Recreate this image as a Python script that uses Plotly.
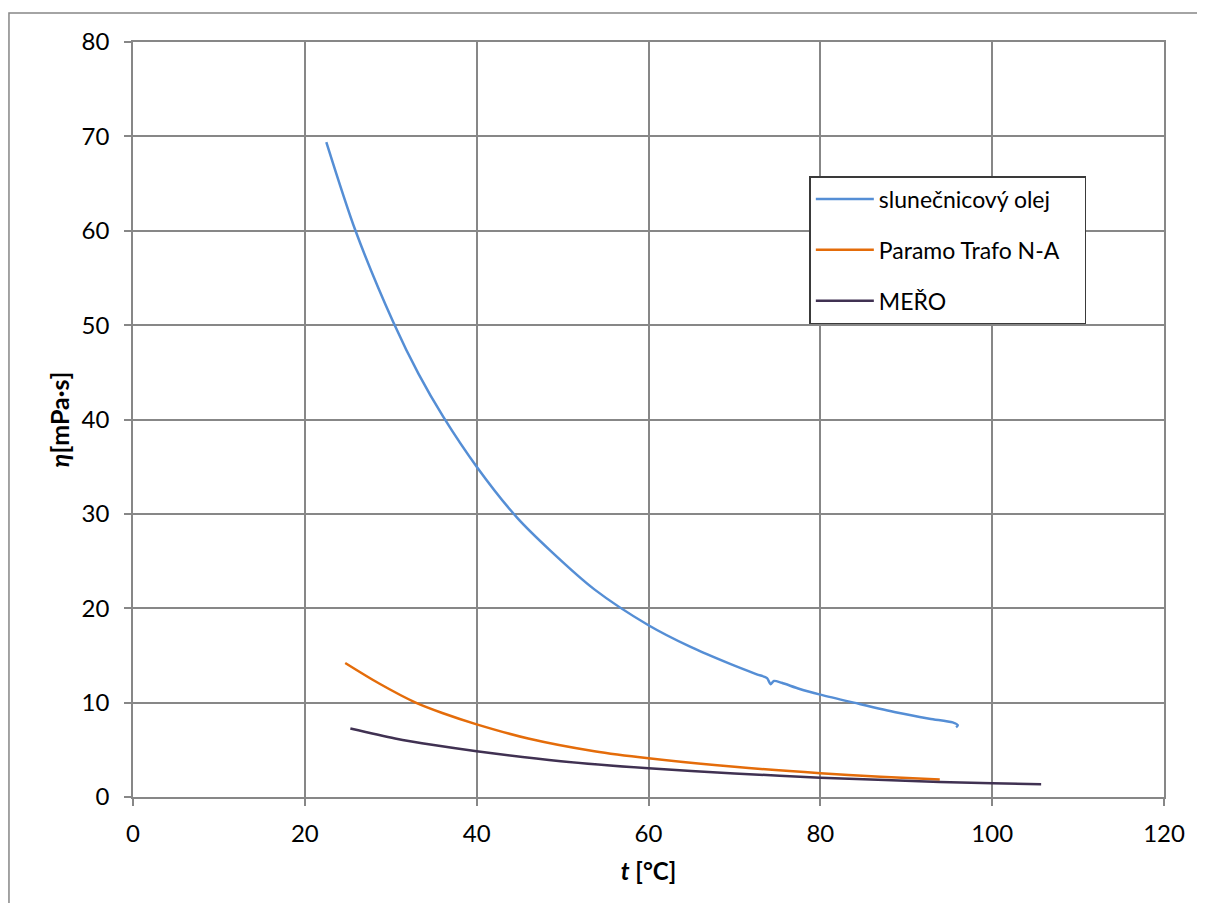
import plotly.graph_objects as go

# --- data ---
t_olej = [22.5, 25.9, 30.3, 33.25, 36.1, 40.0, 44.7, 48.7, 53.7, 60.0, 64.9, 69.5, 72.6,
          73.8, 74.2, 74.6, 75.5, 77.6, 80.0, 83.9, 88.9, 92.7, 95.4, 96.0, 95.8]
eta_olej = [69.4, 60.0, 50.3, 44.8, 40.3, 35.0, 29.6, 26.0, 22.0, 18.2, 15.9, 14.1, 13.0,
            12.6, 11.95, 12.3, 12.1, 11.45, 10.85, 10.0, 8.95, 8.3, 7.9, 7.6, 7.4]

t_trafo = [24.7, 28.6, 32.9, 36.0, 40.0, 46.0, 53.7, 60.0, 70.0, 80.0, 87.0, 93.9]
eta_trafo = [14.2, 12.05, 10.0, 8.9, 7.7, 6.2, 4.85, 4.1, 3.2, 2.52, 2.15, 1.85]

t_mero = [25.3, 30.5, 35.0, 40.0, 49.8, 60.0, 70.0, 80.0, 93.9, 100.0, 105.7]
eta_mero = [7.25, 6.2, 5.5, 4.85, 3.8, 3.05, 2.5, 2.05, 1.6, 1.45, 1.35]

names = ["slunečnicový olej", "Paramo Trafo N-A", "MEŘO"]
colors = ["#558ED5", "#E46C0A", "#403152"]

x_ticks = [0, 20, 40, 60, 80, 100, 120]
y_ticks = [0, 10, 20, 30, 40, 50, 60, 70, 80]

FONT = "Lato"
GRID = "#878787"

fig = go.Figure()
for i, (tx, ty) in enumerate([(t_olej, eta_olej), (t_trafo, eta_trafo), (t_mero, eta_mero)]):
    label = names[i] + ("\u00a0" * 5 if i == 0 else "")
    fig.add_trace(go.Scatter(
        x=tx, y=ty, mode="lines", name=label, legendgroup=f"g{i}",
        line=dict(color=colors[i], width=2.5, shape="spline", smoothing=0.8),
    ))

axis_common = dict(
    showgrid=True, gridcolor=GRID, gridwidth=1.5,
    showline=True, linecolor=GRID, linewidth=1.5, mirror=True,
    ticks="outside", ticklen=7, tickcolor=GRID, tickwidth=1.5,
    zeroline=False,
    tickfont=dict(family=FONT, size=24, color="#000000"),
)

fig.update_xaxes(range=[0, 120], tickvals=x_ticks, ticktext=[str(v) for v in x_ticks],
                 ticklabelstandoff=7,
                 title=dict(text="<b><i>t</i> [°C]</b>", font=dict(family=FONT, size=24, color="#000"),
                            standoff=18),
                 **axis_common)
fig.update_yaxes(range=[0, 80], tickvals=y_ticks, ticktext=[str(v) for v in y_ticks],
                 ticklabelstandoff=10,
                 title=dict(text="<b><i>η</i>[mPa·s]</b>", font=dict(family=FONT, size=25, color="#000"),
                            standoff=5),
                 **axis_common)

fig.update_layout(
    width=1189, height=895,
    margin=dict(l=125, r=27, t=34, b=106),
    paper_bgcolor="white", plot_bgcolor="white",
    font=dict(family=FONT, size=23, color="#000"),
    showlegend=True,
    legend=dict(
        x=0.656, y=0.8225, xanchor="left", yanchor="top",
        bordercolor="#3a3a3a", borderwidth=1.5, bgcolor="white",
        font=dict(family=FONT, size=23, color="#000"),
        traceorder="grouped", tracegroupgap=18, itemwidth=58,
    ),
    shapes=[dict(type="rect", xref="paper", yref="paper",
                 x0=-0.1203, x1=1.05, y0=-0.17, y1=1.0384,
                 line=dict(color=GRID, width=1.5), fillcolor="rgba(0,0,0,0)", layer="below")],
)

fig.write_html("out.html")
